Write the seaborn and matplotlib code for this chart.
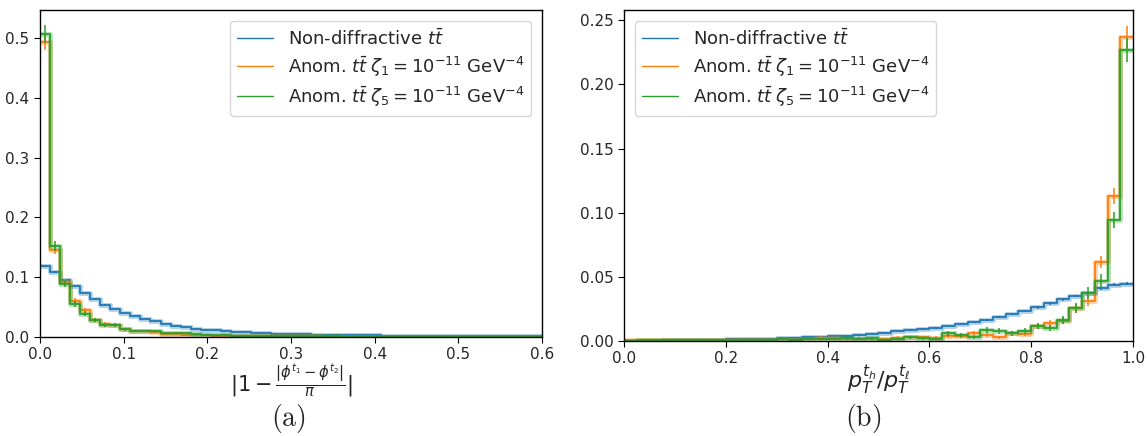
import numpy as np
import pandas as pd
import seaborn as sns
import matplotlib.pyplot as plt
from matplotlib.lines import Line2D

sns.set_style('ticks')
plt.rcParams['font.family'] = ['DejaVu Sans']
plt.rcParams['mathtext.fontset'] = 'dejavusans'

# panel (a): |1 - |dphi|/pi|, 50 bins over 0-0.6
edges_a = np.linspace(0, 0.6, 51)
nd_a = [0.119, 0.109, 0.095, 0.085, 0.073, 0.063, 0.054, 0.047, 0.040, 0.035,
        0.030, 0.026, 0.022, 0.019, 0.017, 0.014, 0.0125, 0.011, 0.0098, 0.0088,
        0.0080, 0.0072, 0.0065, 0.0059, 0.0054, 0.0050, 0.0046, 0.0042, 0.0039, 0.0036,
        0.0033, 0.0031, 0.0029, 0.0027, 0.0025, 0.0024, 0.0022, 0.0021, 0.0020, 0.0019,
        0.0018, 0.0017, 0.0017, 0.0016, 0.0015, 0.0015, 0.0014, 0.0014, 0.0013, 0.0013]
nd_a_err = [0.0012, 0.0011, 0.0010, 0.0010, 0.0009, 0.0008, 0.0008, 0.0007, 0.0007, 0.0006,
            0.0006, 0.0006, 0.0005, 0.0005, 0.0005, 0.0005, 0.0004, 0.0004, 0.0004, 0.0004,
            0.0004, 0.0003, 0.0003, 0.0003, 0.0003, 0.0003, 0.0003, 0.0003, 0.0003, 0.0003,
            0.0002, 0.0002, 0.0002, 0.0002, 0.0002, 0.0002, 0.0002, 0.0002, 0.0002, 0.0002,
            0.0002, 0.0002, 0.0002, 0.0002, 0.0002, 0.0002, 0.0002, 0.0002, 0.0002, 0.0002]
z1_a = [0.493, 0.146, 0.092, 0.061, 0.045, 0.029, 0.022, 0.020, 0.013, 0.0095,
        0.0095, 0.009, 0.0048, 0.0045, 0.0042, 0.0030, 0.0028, 0.0024, 0.0022, 0.0019,
        0.0017, 0.0015, 0.0014, 0.0012, 0.0011, 0.0010, 0.0010, 0.0009, 0.0008, 0.0008,
        0.0007, 0.0007, 0.0006, 0.0006, 0.0006, 0.0005, 0.0005, 0.0005, 0.0005, 0.0004,
        0.0004, 0.0004, 0.0004, 0.0004, 0.0003, 0.0003, 0.0003, 0.0003, 0.0003, 0.0003]
z1_a_err = [0.0126, 0.0072, 0.0056, 0.0046, 0.0040, 0.0032, 0.0028, 0.0026, 0.0021, 0.0018,
            0.0018, 0.0017, 0.0013, 0.0013, 0.0012, 0.0010, 0.0010, 0.0009, 0.0009, 0.0008,
            0.0008, 0.0007, 0.0007, 0.0007, 0.0006, 0.0006, 0.0006, 0.0006, 0.0005, 0.0005,
            0.0005, 0.0005, 0.0005, 0.0005, 0.0005, 0.0004, 0.0004, 0.0004, 0.0004, 0.0004,
            0.0004, 0.0004, 0.0004, 0.0004, 0.0003, 0.0003, 0.0003, 0.0003, 0.0003, 0.0003]
z5_a = [0.507, 0.152, 0.089, 0.055, 0.039, 0.028, 0.020, 0.020, 0.013, 0.0095,
        0.0095, 0.010, 0.0073, 0.0060, 0.0060, 0.0045, 0.0035, 0.0030, 0.0026, 0.0022,
        0.0020, 0.0018, 0.0016, 0.0014, 0.0013, 0.0012, 0.0011, 0.0010, 0.0009, 0.0009,
        0.0008, 0.0008, 0.0007, 0.0007, 0.0006, 0.0006, 0.0006, 0.0005, 0.0005, 0.0005,
        0.0005, 0.0004, 0.0004, 0.0004, 0.0004, 0.0004, 0.0003, 0.0003, 0.0003, 0.0003]
z5_a_err = [0.0145, 0.0080, 0.0060, 0.0047, 0.0040, 0.0033, 0.0028, 0.0028, 0.0022, 0.0019,
            0.0019, 0.0019, 0.0017, 0.0015, 0.0015, 0.0013, 0.0012, 0.0011, 0.0010, 0.0009,
            0.0009, 0.0008, 0.0008, 0.0007, 0.0007, 0.0007, 0.0006, 0.0006, 0.0006, 0.0006,
            0.0005, 0.0005, 0.0005, 0.0005, 0.0005, 0.0005, 0.0005, 0.0004, 0.0004, 0.0004,
            0.0004, 0.0004, 0.0004, 0.0004, 0.0004, 0.0004, 0.0003, 0.0003, 0.0003, 0.0003]

# panel (b): pT ratio, 40 bins over 0-1
edges_b = np.linspace(0, 1, 41)
nd_b = [0.0001, 0.0002, 0.0003, 0.0004, 0.0005, 0.0006, 0.0008, 0.0010, 0.0012, 0.0014,
        0.0016, 0.0018, 0.0021, 0.0024, 0.0027, 0.0031, 0.0036, 0.0041, 0.0047, 0.0056,
        0.0065, 0.0075, 0.0086, 0.0094, 0.0104, 0.0120, 0.0135, 0.0150, 0.0166, 0.0185,
        0.0210, 0.0234, 0.0263, 0.0294, 0.0325, 0.0351, 0.0372, 0.0411, 0.0439, 0.0445]
nd_b_err = [0.0002, 0.0002, 0.0002, 0.0002, 0.0002, 0.0002, 0.0003, 0.0003, 0.0003, 0.0003,
            0.0003, 0.0003, 0.0004, 0.0004, 0.0004, 0.0004, 0.0005, 0.0005, 0.0005, 0.0005,
            0.0006, 0.0006, 0.0006, 0.0006, 0.0007, 0.0007, 0.0007, 0.0008, 0.0008, 0.0008,
            0.0009, 0.0009, 0.0010, 0.0010, 0.0011, 0.0011, 0.0011, 0.0012, 0.0012, 0.0012]
z1_b = [0.0004, 0.0006, 0.0005, 0.0006, 0.0008, 0.0006, 0.0009, 0.0008, 0.0010, 0.0009,
        0.0011, 0.0010, 0.0012, 0.0011, 0.0013, 0.0026, 0.0020, 0.0016, 0.0018, 0.0017,
        0.0016, 0.0026, 0.0028, 0.0028, 0.0023, 0.0039, 0.0039, 0.0060, 0.0044, 0.0029,
        0.0060, 0.0055, 0.0117, 0.0138, 0.0158, 0.0255, 0.0312, 0.0614, 0.1130, 0.2370]
z1_b_err = [0.0005, 0.0006, 0.0005, 0.0006, 0.0007, 0.0006, 0.0007, 0.0007, 0.0008, 0.0007,
            0.0008, 0.0008, 0.0008, 0.0008, 0.0009, 0.0012, 0.0011, 0.0010, 0.0010, 0.0010,
            0.0010, 0.0012, 0.0013, 0.0013, 0.0012, 0.0015, 0.0015, 0.0018, 0.0016, 0.0013,
            0.0018, 0.0018, 0.0025, 0.0027, 0.0029, 0.0036, 0.0040, 0.0045, 0.0060, 0.0083]
z5_b = [0.0003, 0.0005, 0.0007, 0.0004, 0.0006, 0.0007, 0.0008, 0.0006, 0.0009, 0.0010,
        0.0008, 0.0011, 0.0012, 0.0010, 0.0013, 0.0012, 0.0015, 0.0022, 0.0018, 0.0021,
        0.0008, 0.0013, 0.0028, 0.0020, 0.0013, 0.0060, 0.0047, 0.0028, 0.0086, 0.0078,
        0.0060, 0.0080, 0.0117, 0.0104, 0.0164, 0.0255, 0.0372, 0.0470, 0.0944, 0.2265]
z5_b_err = [0.0005, 0.0005, 0.0006, 0.0005, 0.0006, 0.0006, 0.0007, 0.0006, 0.0007, 0.0008,
            0.0007, 0.0008, 0.0008, 0.0008, 0.0009, 0.0008, 0.0009, 0.0011, 0.0010, 0.0011,
            0.0007, 0.0009, 0.0013, 0.0011, 0.0009, 0.0018, 0.0016, 0.0013, 0.0022, 0.0021,
            0.0018, 0.0021, 0.0025, 0.0024, 0.0030, 0.0037, 0.0045, 0.0050, 0.0065, 0.0094]

labels = [r'Non-diffractive $t\bar{t}$',
          r'Anom. $t\bar{t}\;\zeta_1 = 10^{-11}$ GeV$^{-4}$',
          r'Anom. $t\bar{t}\;\zeta_5 = 10^{-11}$ GeV$^{-4}$']
colors = sns.color_palette('tab10', 3)


def draw_hist(ax, edges, vals, errs, c):
    centers = 0.5 * (edges[1:] + edges[:-1])
    d = pd.DataFrame({'x': centers, 'w': vals})
    # light halo, then the thin step on top
    sns.histplot(data=d, x='x', weights='w', bins=list(edges), element='step', fill=False,
                 color=c, lw=3.5, alpha=0.35, ax=ax)
    sns.histplot(data=d, x='x', weights='w', bins=list(edges), element='step', fill=False,
                 color=c, lw=1.3, ax=ax)
    ax.errorbar(centers, vals, yerr=errs, fmt='none', ecolor=c, elinewidth=1.4, alpha=0.8)


fig = plt.figure(figsize=(11.47, 4.36), dpi=100)
ax1 = fig.add_axes([0.0349, 0.227, 0.4377, 0.750])
ax2 = fig.add_axes([0.544, 0.218, 0.4438, 0.759])

for vals, errs, c in zip([nd_a, z1_a, z5_a], [nd_a_err, z1_a_err, z5_a_err], colors):
    draw_hist(ax1, edges_a, np.array(vals), np.array(errs), c)
for vals, errs, c in zip([nd_b, z1_b, z5_b], [nd_b_err, z1_b_err, z5_b_err], colors):
    draw_hist(ax2, edges_b, np.array(vals), np.array(errs), c)

handles = [Line2D([], [], color=c, lw=1) for c in colors]
leg_kw = dict(fontsize=13, handlelength=2.0, labelspacing=0.3, borderaxespad=0.6)

ax1.set_xlim(0, 0.6)
ax1.set_ylim(0, 0.547)
ax1.set_yticks([0.0, 0.1, 0.2, 0.3, 0.4, 0.5])
ax1.set_ylabel('')
ax1.set_xlabel(r'$|1-\frac{|\phi^{t_1}-\phi^{t_2}|}{\pi}|$', fontsize=15, labelpad=0)
ax1.legend(handles, labels, loc='upper right', **leg_kw)

ax2.set_xlim(0, 1)
ax2.set_ylim(0, 0.258)
ax2.set_yticks([0.0, 0.05, 0.10, 0.15, 0.20, 0.25])
ax2.set_yticklabels(['0.00', '0.05', '0.10', '0.15', '0.20', '0.25'])
ax2.set_ylabel('')
ax2.set_xlabel(r'$p_T^{t_h}/p_T^{t_\ell}$', fontsize=16, labelpad=-2)
ax2.legend(handles, labels, loc='upper left', **leg_kw)

for ax in (ax1, ax2):
    ax.tick_params(labelsize=11, direction='out', length=4, color='black')
    for s in ax.spines.values():
        s.set_color('black')
        s.set_linewidth(1.0)

fig.text(0.2515, 0.04, r'$\mathrm{(a)}$', fontsize=20, ha='center', va='center',
         math_fontfamily='cm')
fig.text(0.7525, 0.04, r'$\mathrm{(b)}$', fontsize=20, ha='center', va='center',
         math_fontfamily='cm')

fig.savefig('out.png', dpi=100, facecolor='white')
